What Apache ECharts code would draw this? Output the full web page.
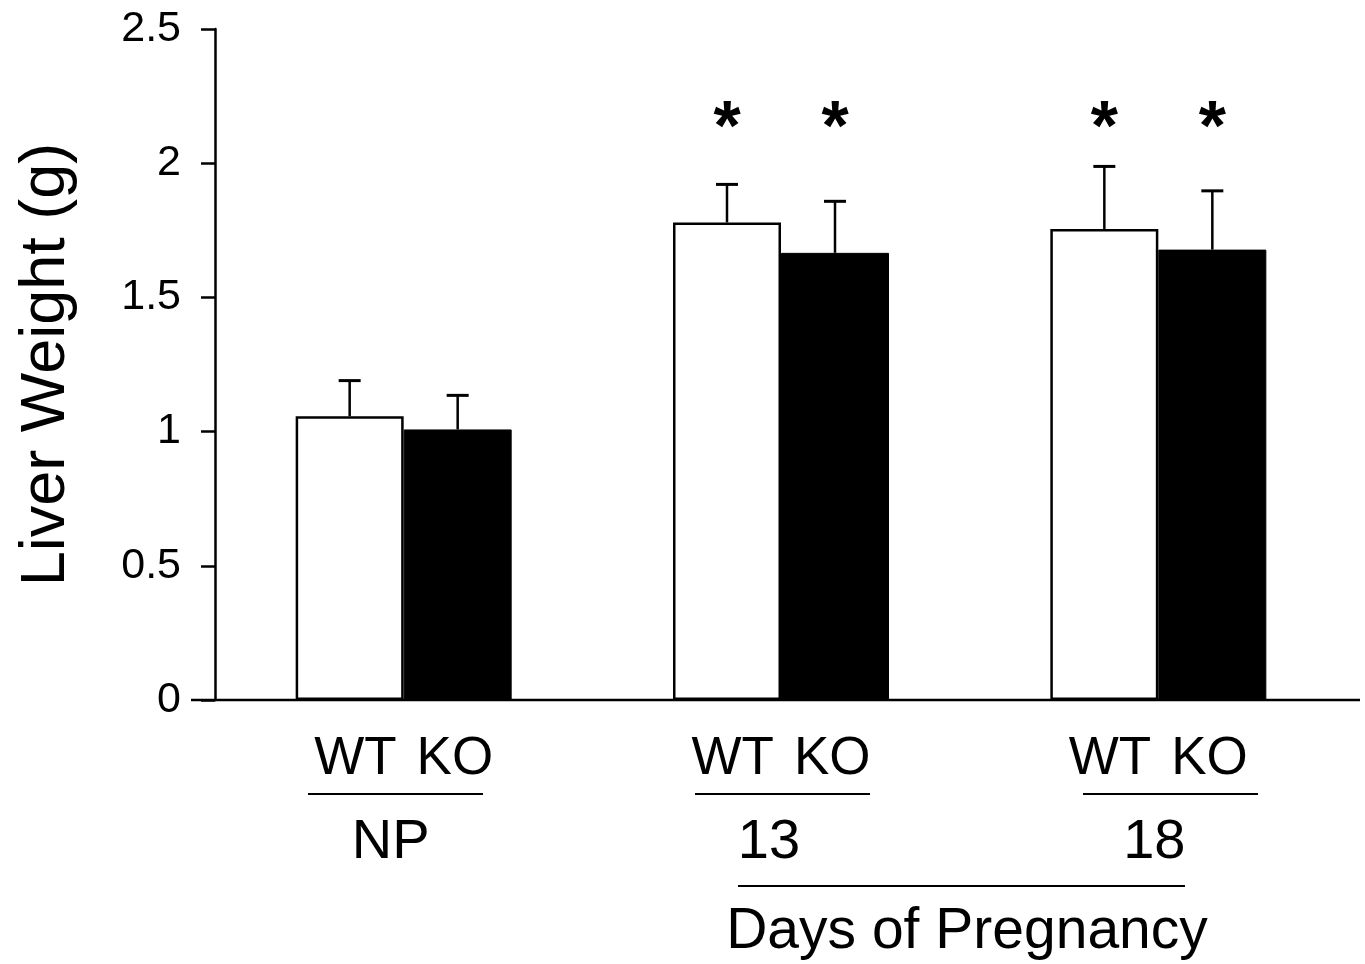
<!DOCTYPE html>
<html>
<head>
  <meta charset="utf-8">
  <title>Liver Weight</title>
  <script src="https://cdn.jsdelivr.net/npm/echarts@6/dist/echarts.min.js"></script>
  <style>
    html, body { margin: 0; padding: 0; background: #fff; }
    #main { width: 1365px; height: 964px; }
  </style>
</head>
<body>
  <div id="main"></div>
  <script>
  // groups along the x axis
  var groups = ['NP', '13', '18'];
  var subLabels = ['WT', 'KO'];

  // liver weight (g), mean and upper SD
  var wtMean = [1.057, 1.779, 1.755];
  var wtErr  = [0.133, 0.142, 0.233];
  var koMean = [1.008, 1.666, 1.678];
  var koErr  = [0.127, 0.192, 0.219];

  // significance marks (1 = asterisk)
  var wtStar = [0, 1, 1];
  var koStar = [0, 1, 1];

  var yTicks = [0, 0.5, 1, 1.5, 2, 2.5];

  var FONT = '"Liberation Sans", Arial, Helvetica, sans-serif';
  var BAR_W = 108;
  var STAR_LEVEL = 2.12;   //星号的高度

  var chart = echarts.init(document.getElementById('main'));

  function errData(mean, err, star) {
    return mean.map(function (m, i) { return [i, m, err[i], star[i]]; });
  }

  function errRender(offset) {
    return function (params, api) {
      var i = api.value(0);
      var base = api.coord([i, api.value(1)]);
      var top = api.coord([i, api.value(1) + api.value(2)]);
      var x = base[0] + offset;
      var kids = [
        { type: 'line', shape: { x1: x, y1: base[1], x2: x, y2: top[1] },
          style: { stroke: '#000', lineWidth: 2.5 } },
        { type: 'line', shape: { x1: x - 11, y1: top[1], x2: x + 11, y2: top[1] },
          style: { stroke: '#000', lineWidth: 3 } }
      ];
      if (api.value(3)) {
        var sy = api.coord([i, STAR_LEVEL])[1];
        kids.push({ type: 'text', style: {
          x: x, y: sy, text: '*', fill: '#000',
          font: 'bold 70px ' + FONT, align: 'center', verticalAlign: 'middle'
        } });
      }
      return { type: 'group', children: kids };
    };
  }

  var rich = {
    wt: { fontFamily: FONT, fontSize: 53, color: '#000', lineHeight: 84, padding: [0, 20, 0, 0] },
    ko: { fontFamily: FONT, fontSize: 53, color: '#000', lineHeight: 84 },
    g0: { fontFamily: FONT, fontSize: 56, color: '#000', lineHeight: 84, padding: [0, 26, 0, 0] },
    g1: { fontFamily: FONT, fontSize: 56, color: '#000', lineHeight: 84, padding: [0, 24, 0, 0] },
    g2: { fontFamily: FONT, fontSize: 56, color: '#000', lineHeight: 84, padding: [0, 8, 0, 0] }
  };

  var option = {
    backgroundColor: '#fff',
    animation: false,
    grid: { left: 215, right: 18, top: 29, bottom: 264, outerBoundsMode: 'none', containLabel: false },
    xAxis: {
      type: 'category',
      data: groups,
      axisLine: { show: false },
      axisTick: { show: false },
      axisLabel: {
        margin: 17,
        formatter: function (v, idx) {
          return '{wt|' + subLabels[0] + '}{ko|' + subLabels[1] + '}\n{g' + idx + '|' + v + '}';
        },
        rich: rich
      }
    },
    yAxis: {
      type: 'value',
      min: yTicks[0],
      max: yTicks[yTicks.length - 1],
      interval: 0.5,
      splitLine: { show: false },
      axisLine: { show: true, lineStyle: { color: '#000', width: 2.5 } },
      axisTick: { show: true, length: 14, lineStyle: { color: '#000', width: 2.5 } },
      axisLabel: { margin: 34, fontFamily: FONT, fontSize: 43, color: '#000' },
      name: 'Liver Weight (g)',
      nameLocation: 'middle',
      nameGap: 137,
      nameTextStyle: { fontFamily: FONT, fontSize: 63, color: '#000' }
    },
    series: [
      {
        name: 'WT', type: 'bar', data: wtMean, barWidth: BAR_W, barGap: '0%',
        itemStyle: { color: '#fff', borderColor: '#000', borderWidth: 2.5 }
      },
      {
        name: 'KO', type: 'bar', data: koMean, barWidth: BAR_W, barGap: '0%',
        itemStyle: { color: '#000', borderColor: '#000', borderWidth: 1 }
      },
      { type: 'custom', data: errData(wtMean, wtErr, wtStar), renderItem: errRender(-BAR_W / 2), z: 5 },
      { type: 'custom', data: errData(koMean, koErr, koStar), renderItem: errRender(BAR_W / 2), z: 5 }
    ],
    graphic: [
      // x 轴基线
      { type: 'line', shape: { x1: 191, y1: 700, x2: 1360, y2: 700 }, style: { stroke: '#000', lineWidth: 2.5 }, z: 10 },
      { type: 'line', shape: { x1: 308, y1: 794, x2: 483, y2: 794 }, style: { stroke: '#000', lineWidth: 2 } },
      { type: 'line', shape: { x1: 695, y1: 794, x2: 870, y2: 794 }, style: { stroke: '#000', lineWidth: 2 } },
      { type: 'line', shape: { x1: 1083, y1: 794, x2: 1258, y2: 794 }, style: { stroke: '#000', lineWidth: 2 } },
      { type: 'line', shape: { x1: 738, y1: 886, x2: 1185, y2: 886 }, style: { stroke: '#000', lineWidth: 2 } },
      { type: 'text', x: 967, y: 932, style: {
          text: 'Days of Pregnancy', font: '57px ' + FONT, fill: '#000',
          align: 'center', verticalAlign: 'middle' } }
    ]
  };

  chart.setOption(option);
  </script>
</body>
</html>
